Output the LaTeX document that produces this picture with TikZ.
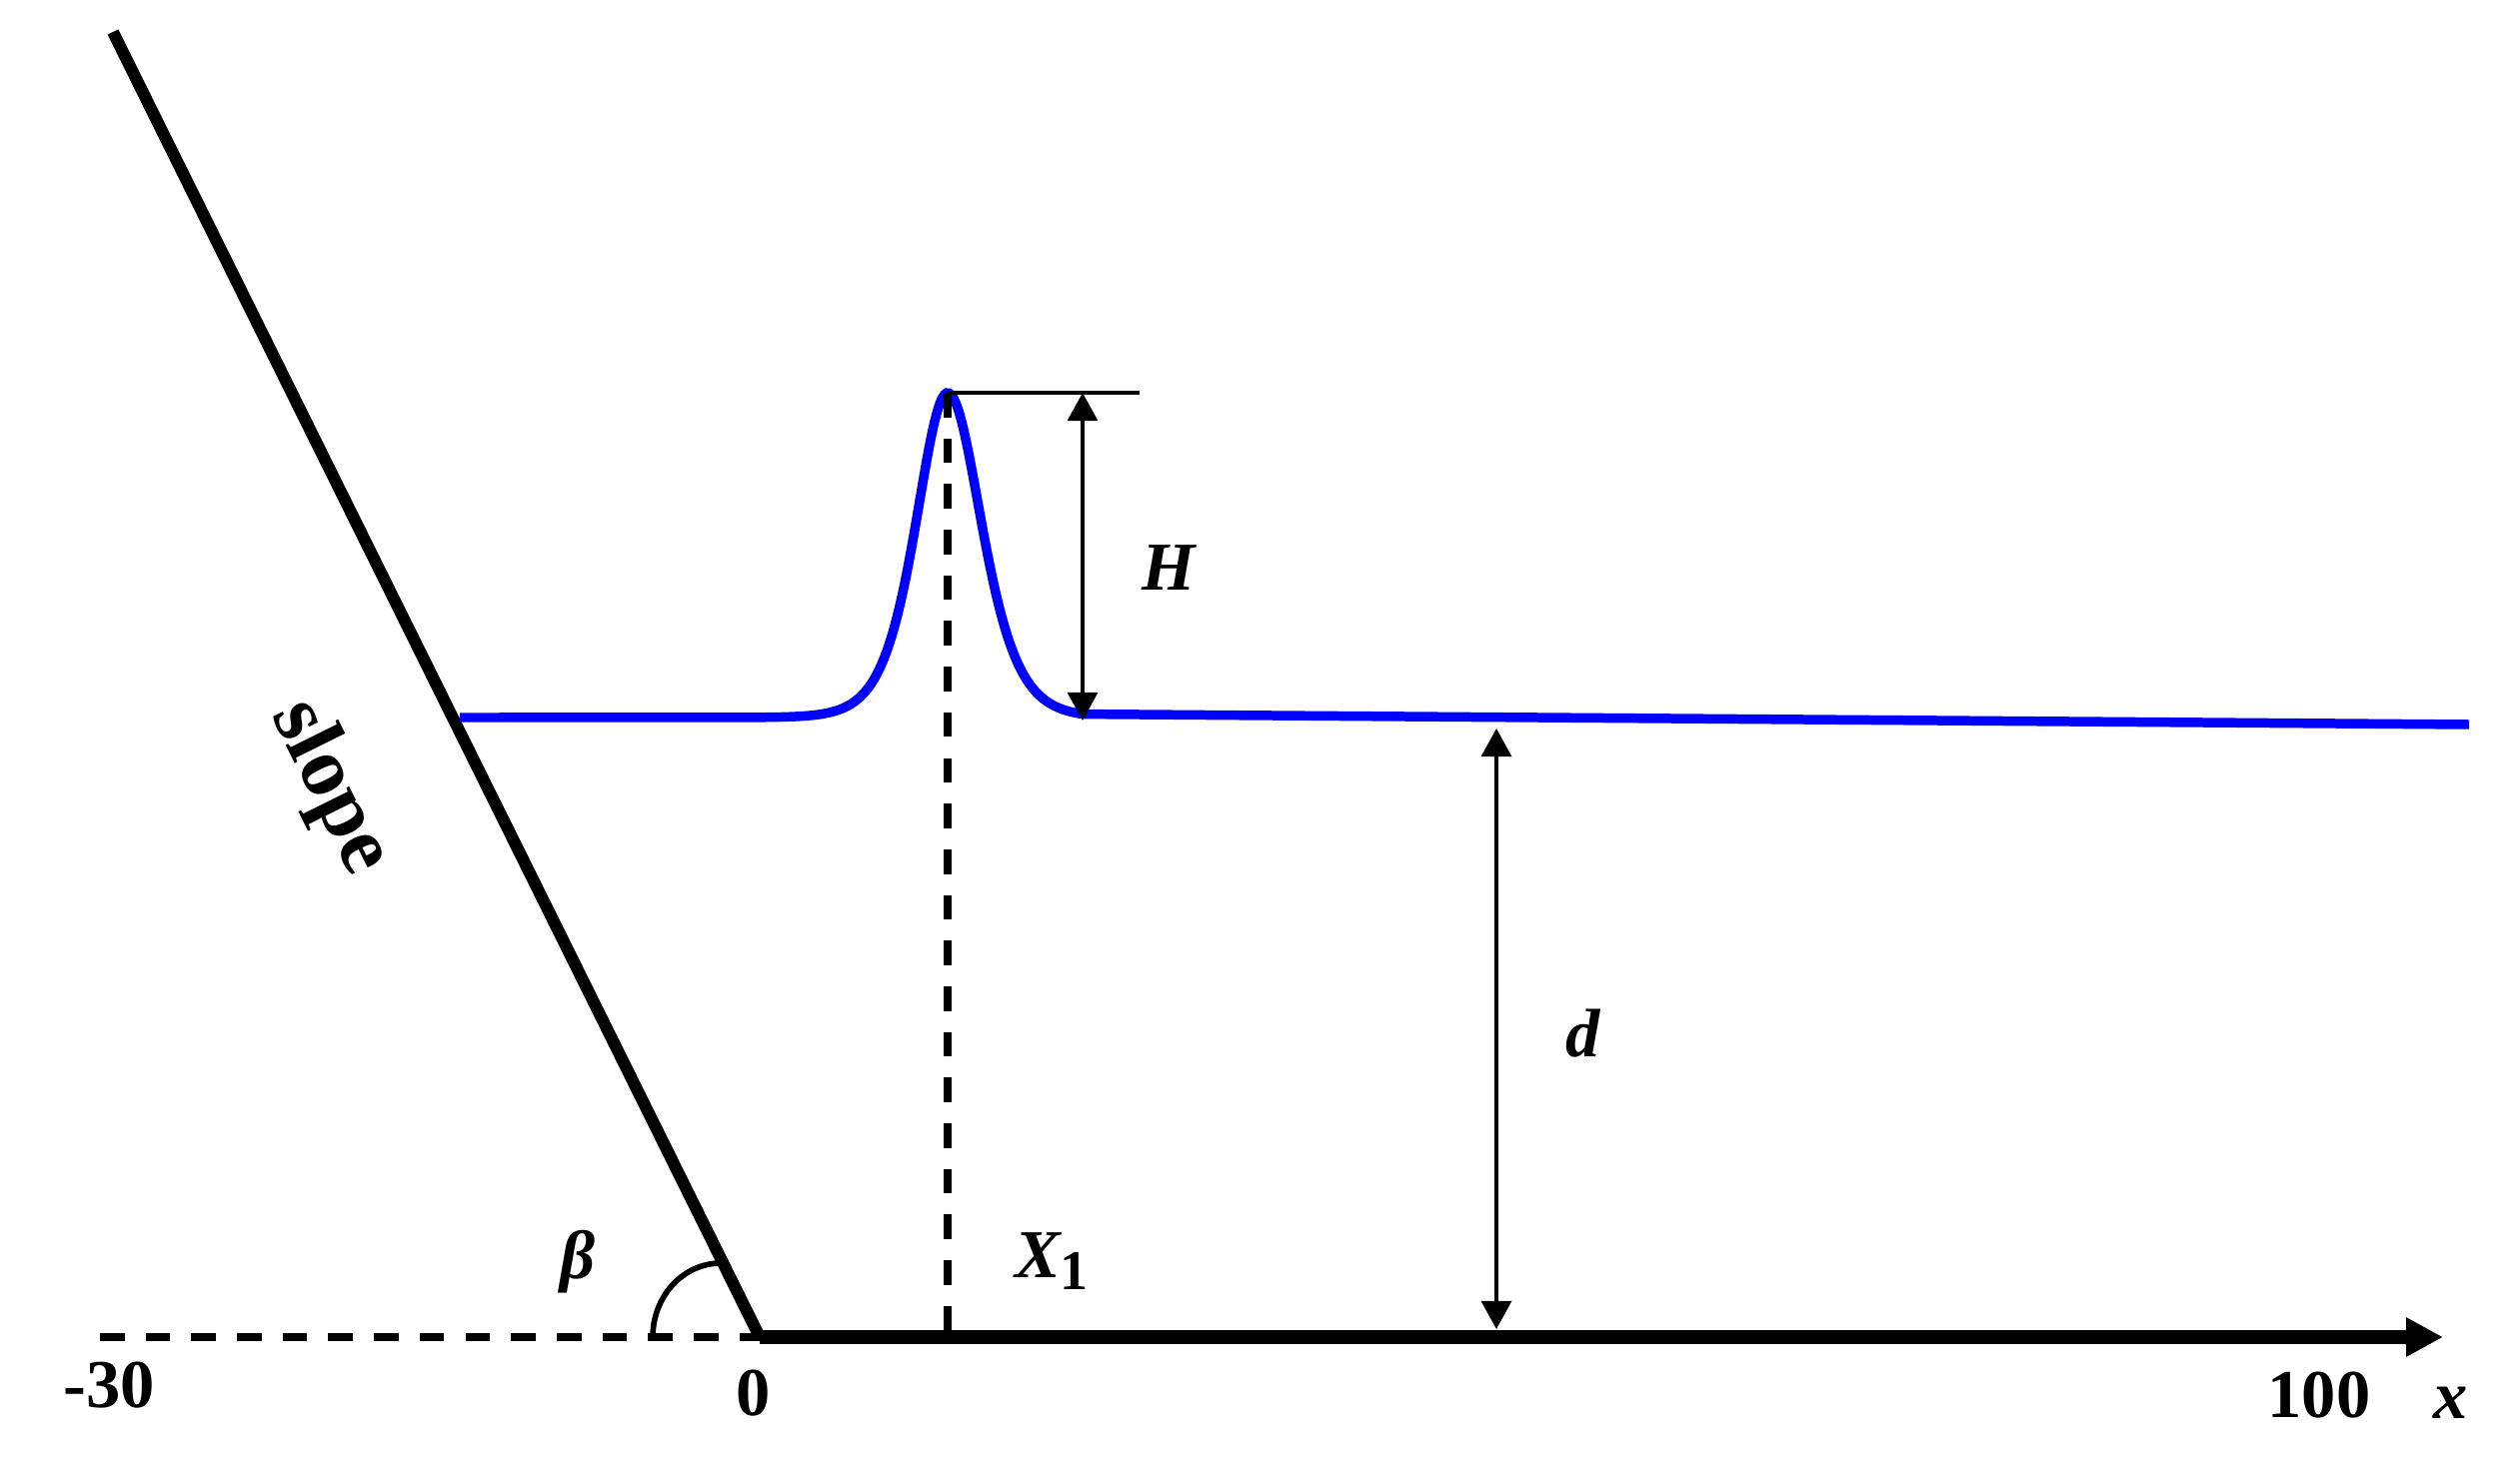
\documentclass[tikz,border=0pt]{standalone}
\usepackage{fontspec}
\setmainfont{Liberation Serif}
\usetikzlibrary{arrows.meta}

\begin{document}
\begin{tikzpicture}
  [every node/.style={font=\fontsize{19.5}{22}\selectfont\bfseries},
   ground/.style={line width=3.8pt},
   bank/.style={line width=3.4pt},
   guide/.style={line width=2.5pt,dash pattern=on 7pt off 6pt},
   wave/.style={blue,line width=2.7pt},
   dim/.style={line width=1.1pt,{Triangle[length=8pt,width=8.5pt]}-{Triangle[length=8pt,width=8.5pt]}}]
  \useasboundingbox (0,0) rectangle (25.21,14.77);
  % points
  \coordinate (O) at (7.60,1.39);
  \coordinate (top) at (1.13,14.45);
  \coordinate (left) at (1.00,1.39);
  \coordinate (tip) at (24.44,1.39);
  \coordinate (wl) at (4.60,7.59);
  \coordinate (wr) at (24.70,7.52);
  \coordinate (crest) at (9.48,10.84);
  \coordinate (foot) at (9.48,1.39);
  \coordinate (crestend) at (11.40,10.84);
  \coordinate (Htop) at (10.83,10.84);
  \coordinate (Hbot) at (10.83,7.56);
  \coordinate (dtop) at (14.97,7.48);
  \coordinate (dbot) at (14.97,1.47);
  \coordinate (arcstart) at (6.53,1.39);

  % bottom and slope
  \draw[guide] (left) -- (O);
  \draw[ground,-{Triangle[length=10.5pt,width=10.5pt]}] (O) -- (tip);
  \draw[bank] (top) -- (O);
  \draw[line width=1.6pt] (arcstart) arc[start angle=180,end angle=90,x radius=0.68,y radius=0.74];

  % solitary wave
  \draw[wave] (wl) -- plot[domain=7.4:10.83,samples=160,smooth]
    (\x,{7.59+3.25/cosh((\x<9.48?2.35:2.2)*(\x-9.48))^2}) -- (wr);
  \draw[guide] (crest) -- (foot);
  \draw[line width=1.3pt] (crest) -- (crestend);
  \draw[dim] (Hbot) -- (Htop);
  \draw[dim] (dbot) -- (dtop);

  % labels
  \node (n30) at (1.09,0.91) {-30};
  \node (n0) at (7.54,0.83) {0};
  \node (n100) at (23.20,0.81) {100};
  \node (nx) at (24.52,0.73) {\itshape x};
  \node (nH) at (11.69,9.09) {\itshape H};
  \node (nd) at (15.84,4.43) {\itshape d};
  \node (nX) at (10.53,2.15) {{\itshape X}\textsubscript{\fontsize{16}{18}\selectfont 1}};
  \node (nb) at (5.78,2.14) {\itshape β};
  \node[rotate=-63.6,font=\fontsize{24}{26}\selectfont\bfseries] (ns) at (3.30,6.89) {slope};
\end{tikzpicture}
\end{document}
